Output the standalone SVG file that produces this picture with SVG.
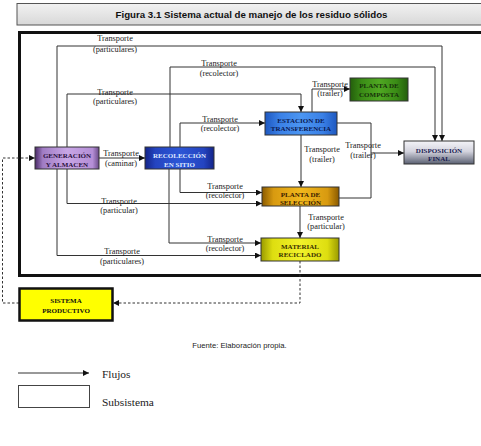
<svg xmlns="http://www.w3.org/2000/svg" width="481" height="446" viewBox="0 0 481 446">
  <defs>
    <marker id="arr" markerWidth="6" markerHeight="6" refX="6" refY="3" orient="auto" markerUnits="userSpaceOnUse">
      <path d="M0,0 L6,3 L0,6 z" fill="#111"/>
    </marker>
    <linearGradient id="gTitle" x1="0" y1="0" x2="0" y2="1">
      <stop offset="0" stop-color="#f2f2f2"/>
      <stop offset="1" stop-color="#d8d8d8"/>
    </linearGradient>
    <linearGradient id="gGen" x1="0" y1="0" x2="1" y2="0">
      <stop offset="0" stop-color="#4a2a66"/>
      <stop offset="0.12" stop-color="#a07cc4"/>
      <stop offset="0.5" stop-color="#c8a6e6"/>
      <stop offset="0.9" stop-color="#b48ed6"/>
      <stop offset="1" stop-color="#6a4a88"/>
    </linearGradient>
    <linearGradient id="gRec" x1="0" y1="0" x2="1" y2="0">
      <stop offset="0" stop-color="#142488"/>
      <stop offset="0.15" stop-color="#2444c0"/>
      <stop offset="0.5" stop-color="#2c56d6"/>
      <stop offset="0.85" stop-color="#2444c0"/>
      <stop offset="1" stop-color="#142488"/>
    </linearGradient>
    <linearGradient id="gEst" x1="0" y1="0" x2="1" y2="0">
      <stop offset="0" stop-color="#1e58c0"/>
      <stop offset="0.2" stop-color="#3a80e6"/>
      <stop offset="0.5" stop-color="#4c96f2"/>
      <stop offset="0.8" stop-color="#3a80e6"/>
      <stop offset="1" stop-color="#1e58c0"/>
    </linearGradient>
    <linearGradient id="gCom" x1="0" y1="0" x2="1" y2="0">
      <stop offset="0" stop-color="#245e0c"/>
      <stop offset="0.2" stop-color="#3a8c16"/>
      <stop offset="0.5" stop-color="#50a822"/>
      <stop offset="0.8" stop-color="#3a8c16"/>
      <stop offset="1" stop-color="#245e0c"/>
    </linearGradient>
    <linearGradient id="gDis" x1="0" y1="0" x2="0" y2="1">
      <stop offset="0" stop-color="#f4f4f8"/>
      <stop offset="0.45" stop-color="#d4d4de"/>
      <stop offset="1" stop-color="#5a6072"/>
    </linearGradient>
    <linearGradient id="gSel" x1="0" y1="0" x2="1" y2="0">
      <stop offset="0" stop-color="#8a5a00"/>
      <stop offset="0.15" stop-color="#d89a10"/>
      <stop offset="0.5" stop-color="#f2b81c"/>
      <stop offset="0.85" stop-color="#d89a10"/>
      <stop offset="1" stop-color="#8a5a00"/>
    </linearGradient>
    <linearGradient id="gMat" x1="0" y1="0" x2="1" y2="0">
      <stop offset="0" stop-color="#9a9a00"/>
      <stop offset="0.15" stop-color="#dede10"/>
      <stop offset="0.5" stop-color="#f2f22a"/>
      <stop offset="0.85" stop-color="#dede10"/>
      <stop offset="1" stop-color="#9a9a00"/>
    </linearGradient>
    <style>
      .lbl { font-family: "Liberation Serif", "Times New Roman", serif; font-size: 8.3px; fill: #222; text-anchor: middle; }
      .nd  { font-family: "Liberation Serif", "Times New Roman", serif; font-size: 7px; font-weight: bold; text-anchor: middle; }
      .flow { fill: none; stroke: #333; stroke-width: 1; }
      .dash { fill: none; stroke: #333; stroke-width: 1; stroke-dasharray: 2.5 2; }
      .box { stroke: #333; stroke-width: 1; }
    </style>
  </defs>

  <rect width="481" height="446" fill="#fff"/>

  <!-- title bar -->
  <g id="title">
    <rect x="17" y="3.5" width="470" height="21.5" fill="url(#gTitle)" stroke="#555" stroke-width="1"/>
    <text x="251.5" y="18" font-family="'Liberation Sans', Arial, sans-serif" font-size="9.7" font-weight="bold" fill="#111" text-anchor="middle">Figura 3.1 Sistema actual de manejo de los residuo sólidos</text>
  </g>

  <!-- system boundary -->
  <rect id="frame" x="19.5" y="32.5" width="470" height="243" fill="none" stroke="#111" stroke-width="3"/>

  <!-- connectors -->
  <g id="connectors">
    <path class="flow" d="M57,147 V46 H442 V141" marker-end="url(#arr)"/>
    <path class="flow" d="M170,147 V67 H435 V141" marker-end="url(#arr)"/>
    <path class="flow" d="M67,147 V94 H301 V112" marker-end="url(#arr)"/>
    <path class="flow" d="M180,147 V123 H265" marker-end="url(#arr)"/>
    <path class="flow" d="M99,158 H145" marker-end="url(#arr)"/>
    <path class="flow" d="M180,169 V192.5 H262" marker-end="url(#arr)"/>
    <path class="flow" d="M67,169 V203.5 H262" marker-end="url(#arr)"/>
    <path class="flow" d="M169,169 V243 H261" marker-end="url(#arr)"/>
    <path class="flow" d="M57,169 V255.5 H261" marker-end="url(#arr)"/>
    <path class="flow" d="M301,135 V187" marker-end="url(#arr)"/>
    <path class="flow" d="M312,112 V89 H350" marker-end="url(#arr)"/>
    <path class="flow" d="M337,123 H371 V198 H339"/>
    <path class="flow" d="M371,153 H404" marker-end="url(#arr)"/>
    <path class="flow" d="M300,206 V238" marker-end="url(#arr)"/>
    <path class="dash" d="M300,261 V303 H113" marker-end="url(#arr)"/>
    <path class="dash" d="M19,303 H2.5 V158 H35" marker-end="url(#arr)"/>
  </g>

  <!-- connector labels -->
  <g id="labels">
    <text class="lbl" x="115" y="41">Transporte</text>
    <text class="lbl" x="115" y="52">(particulares)</text>
    <text class="lbl" x="219" y="66">Transporte</text>
    <text class="lbl" x="219" y="76">(recolector)</text>
    <text class="lbl" x="115" y="95">Transporte</text>
    <text class="lbl" x="115" y="104">(particulares)</text>
    <text class="lbl" x="220" y="122">Transporte</text>
    <text class="lbl" x="220" y="131">(recolector)</text>
    <text class="lbl" x="121" y="156">Transporte</text>
    <text class="lbl" x="121" y="166">(caminar)</text>
    <text class="lbl" x="225" y="189">Transporte</text>
    <text class="lbl" x="225" y="198">(recolector)</text>
    <text class="lbl" x="119" y="204">Transporte</text>
    <text class="lbl" x="119" y="213">(particular)</text>
    <text class="lbl" x="225" y="242">Transporte</text>
    <text class="lbl" x="225" y="251">(recolector)</text>
    <text class="lbl" x="122" y="254">Transporte</text>
    <text class="lbl" x="122" y="264">(particulares)</text>
    <text class="lbl" x="322" y="152">Transporte</text>
    <text class="lbl" x="322" y="162">(trailer)</text>
    <text class="lbl" x="363" y="148">Transporte</text>
    <text class="lbl" x="363" y="158">(trailer)</text>
    <text class="lbl" x="326" y="220">Transporte</text>
    <text class="lbl" x="326" y="229">(particular)</text>
    <text class="lbl" x="330" y="87">Transporte</text>
    <text class="lbl" x="330" y="96">(trailer)</text>
  </g>

  <!-- nodes -->
  <g id="generacion">
    <rect class="box" x="35" y="147" width="64" height="22" fill="url(#gGen)"/>
    <text class="nd" x="67" y="158" fill="#2a1040">GENERACIÓN</text>
    <text class="nd" x="67" y="166.5" fill="#2a1040">Y ALMACEN</text>
  </g>
  <g id="recoleccion">
    <rect class="box" x="145" y="147" width="69" height="22" fill="url(#gRec)"/>
    <text class="nd" x="179.5" y="158" fill="#dfe8ff">RECOLECCIÓN</text>
    <text class="nd" x="179.5" y="166.5" fill="#dfe8ff">EN SITIO</text>
  </g>
  <g id="estacion">
    <rect class="box" x="265" y="112" width="72" height="23" fill="url(#gEst)"/>
    <text class="nd" x="301" y="123" fill="#0a1850">ESTACION DE</text>
    <text class="nd" x="301" y="131" fill="#0a1850">TRANSFERENCIA</text>
  </g>
  <g id="composta">
    <rect class="box" x="350" y="78" width="58" height="23" fill="url(#gCom)"/>
    <text class="nd" x="379" y="88" fill="#16320a">PLANTA DE</text>
    <text class="nd" x="379" y="97" fill="#16320a">COMPOSTA</text>
  </g>
  <g id="disposicion">
    <rect class="box" x="404" y="141" width="70" height="23" fill="url(#gDis)"/>
    <text class="nd" x="439" y="152.5" fill="#1a2050">DISPOSICIÓN</text>
    <text class="nd" x="439" y="160.5" fill="#1a2050">FINAL</text>
  </g>
  <g id="seleccion">
    <rect class="box" x="262" y="187" width="77" height="19" fill="url(#gSel)"/>
    <text class="nd" x="300.5" y="196.5" fill="#3a2000">PLANTA DE</text>
    <text class="nd" x="300.5" y="205" fill="#3a2000">SELECCIÓN</text>
  </g>
  <g id="material">
    <rect class="box" x="261" y="238" width="78" height="23" fill="url(#gMat)"/>
    <text class="nd" x="300" y="249" fill="#3a3000">MATERIAL</text>
    <text class="nd" x="300" y="257" fill="#3a3000">RECICLADO</text>
  </g>
  <g id="sistema">
    <rect x="19.5" y="288.5" width="93" height="32" fill="#ffff00" stroke="#111" stroke-width="2.5"/>
    <text class="nd" x="66" y="303" font-size="9" fill="#111">SISTEMA</text>
    <text class="nd" x="66" y="313" font-size="9" fill="#111">PRODUCTIVO</text>
  </g>

  <!-- source note -->
  <text x="239.5" y="348" font-family="'Liberation Sans', Arial, sans-serif" font-size="7.7" fill="#222" text-anchor="middle">Fuente: Elaboración propia.</text>

  <!-- legend -->
  <g id="legend">
    <path class="flow" d="M18,373 H89" marker-end="url(#arr)"/>
    <text x="102" y="378" font-family="'Liberation Serif', 'Times New Roman', serif" font-size="11.4" fill="#222">Flujos</text>
    <rect x="18.5" y="385.5" width="71" height="22" fill="#fff" stroke="#444" stroke-width="1"/>
    <text x="102" y="406" font-family="'Liberation Serif', 'Times New Roman', serif" font-size="11.4" fill="#222">Subsistema</text>
  </g>
</svg>
